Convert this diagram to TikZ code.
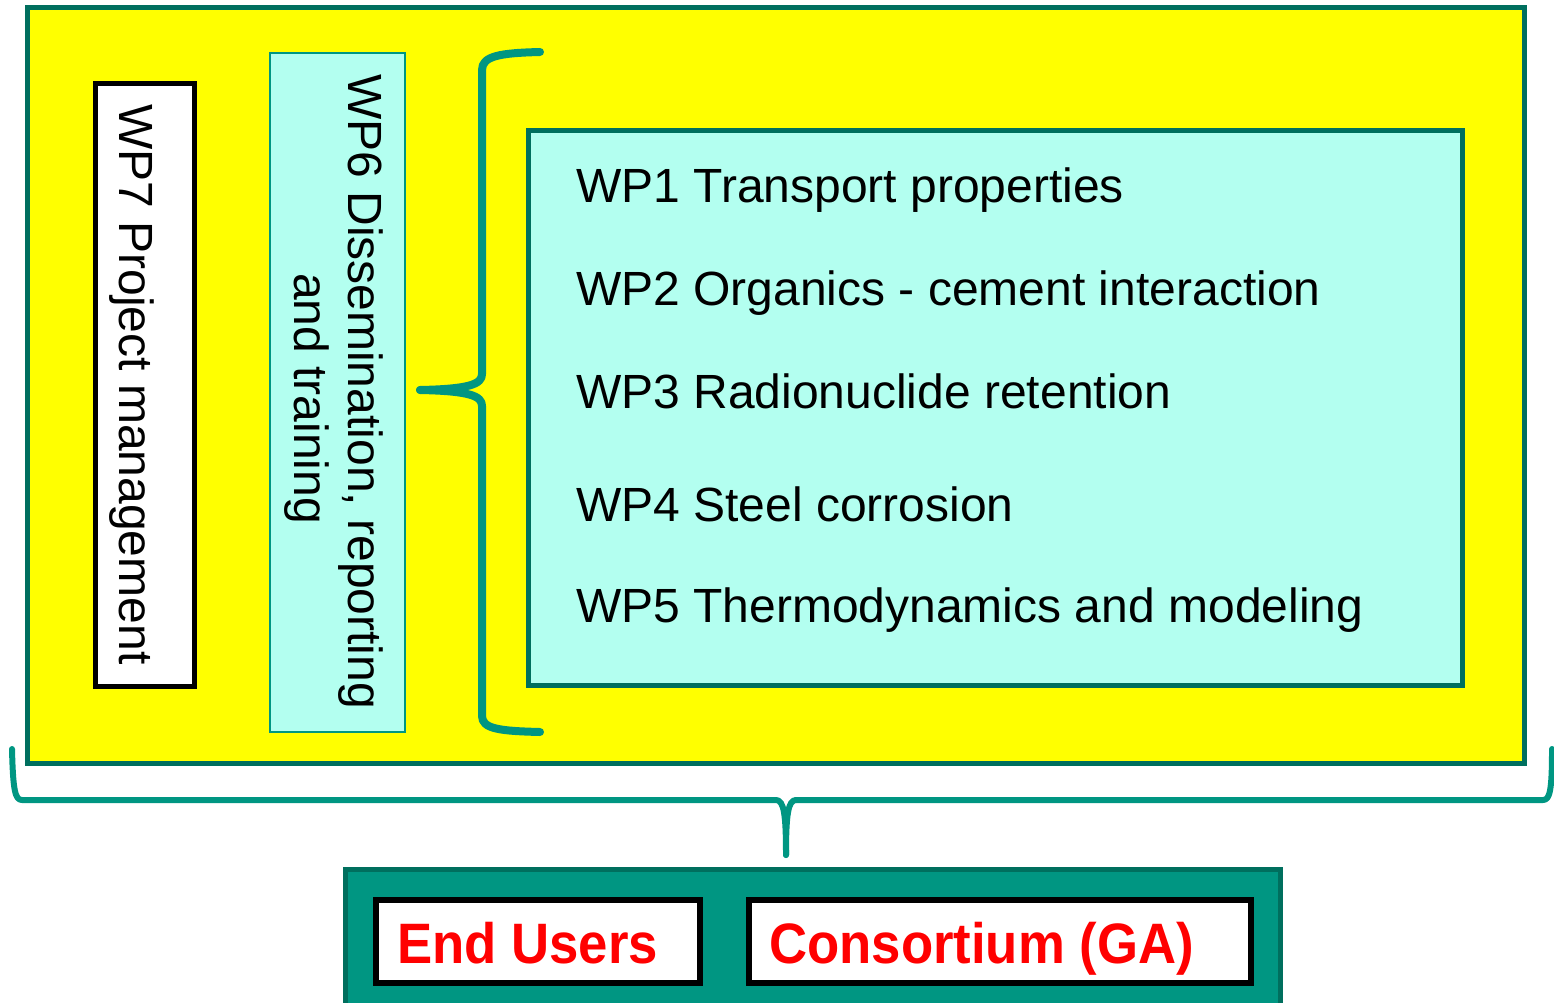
\documentclass[tikz,border=0pt]{standalone}
\usepackage{fontspec}
\setmainfont{Liberation Sans}
\definecolor{yel}{HTML}{FFFF00}
\definecolor{aqua}{HTML}{B3FFF0}
\definecolor{tealA}{HTML}{009682}
\definecolor{tealB}{HTML}{006F5E}
\definecolor{redt}{HTML}{FF0000}
\begin{document}
\begin{tikzpicture}[x=1pt,y=-1pt,
  box/.style={inner sep=0pt, outer sep=0pt},
  wptext/.style={inner sep=0pt, anchor=base west, font=\fontsize{48}{54}\selectfont},
  redtext/.style={inner sep=0pt, anchor=base west, text=redt, xscale=0.925, font=\fontsize{57}{60}\selectfont\bfseries},
  brace/.style={draw=tealA, line cap=round, line join=round}]
\useasboundingbox (0,0) rectangle (1554,1003);
% outer yellow frame
\node[box, draw=tealB, line width=5pt, fill=yel, minimum width=1497pt, minimum height=756pt] (outer) at (776,385.5) {};
% WP7
\node[box, draw=black, line width=5pt, fill=white, minimum width=99pt, minimum height=602pt] (wp7box) at (145,385) {};
\node[wptext, rotate=-90] (wp7) at (119,104) {WP7 Project management};
% WP6
\node[box, draw=tealA, line width=1.5pt, fill=aqua, minimum width=135pt, minimum height=679pt] (wp6box) at (337.5,392.5) {};
\node[inner sep=0pt, rotate=-90, align=center, font=\fontsize{48}{54}\selectfont] (wp6) at (333.5,391.5) {WP6 Dissemination, reporting\\\hspace*{14pt}and training};
% WP1-5 box
\node[box, draw=tealB, line width=5pt, fill=aqua, minimum width=933.5pt, minimum height=555pt] (wpbox) at (995.25,408) {};
\node[wptext] (wp1) at (576,202) {WP1 Transport properties};
\node[wptext] (wp2) at (576,305) {WP2 Organics - cement interaction};
\node[wptext] (wp3) at (576,408) {WP3 Radionuclide retention};
\node[wptext] (wp4) at (576,521) {WP4 Steel corrosion};
\node[wptext] (wp5) at (576,622) {WP5 Thermodynamics and modeling};
% left brace
\draw[brace, line width=8pt] (540,52) .. controls (500,53) and (482,56) .. (482,70) -- (482,374)
  .. controls (482,384) and (470,389) .. (420,390);
\draw[brace, line width=8pt] (420,390) .. controls (470,391) and (482,396) .. (482,406) -- (482,716)
  .. controls (482,729) and (500,731) .. (540,732);
% bottom brace
\draw[brace, line width=6pt] (12,749) .. controls (13,790) and (15,800) .. (22,800) -- (776,800)
  .. controls (784,800) and (786,815) .. (786,855);
\draw[brace, line width=6pt] (796,800) .. controls (788,800) and (786,815) .. (786,855);
\draw[brace, line width=6pt] (796,800) -- (1543,800) .. controls (1550,800) and (1552,790) .. (1552,749);
% bottom box
\node[box, draw=tealB, line width=5pt, fill=tealA, minimum width=935pt, minimum height=150pt] (bottom) at (813,944.5) {};
\node[box, draw=black, line width=6pt, fill=white, minimum width=324.5pt, minimum height=83pt] (eubox) at (537.75,941.5) {};
\node[box, draw=black, line width=6pt, fill=white, minimum width=502pt, minimum height=83pt] (gabox) at (1000,941.5) {};
\node[redtext] (eu) at (397,963) {End Users};
\node[redtext] (ga) at (769,963) {Consortium (GA)};
\end{tikzpicture}
\end{document}
